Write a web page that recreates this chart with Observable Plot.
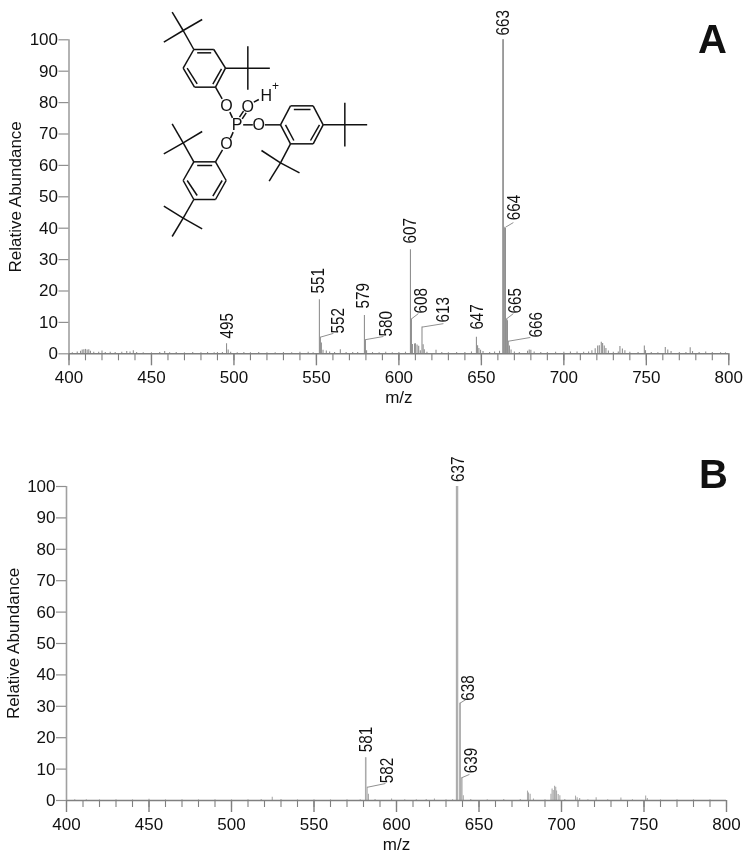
<!DOCTYPE html>
<html>
<head>
<meta charset="utf-8">
<script src="https://cdn.jsdelivr.net/npm/d3@7"></script>
<script src="https://cdn.jsdelivr.net/npm/@observablehq/plot@0.6"></script>
<style>
html,body{margin:0;padding:0;background:#fff}
#page{position:relative;width:750px;height:863px;overflow:hidden;font-family:"Liberation Sans",Arial,sans-serif}
#page svg{position:absolute;overflow:visible;max-width:none;filter:blur(0.45px)}
.letter{position:absolute;font:bold 40px "Liberation Sans",Arial,sans-serif;color:#111;line-height:40px;filter:blur(0.45px)}
</style>
</head>
<body>
<div id="page"></div>
<script>
// ---------- Panel A: peaks ----------
const mzA = [402,405,407,408,409,410,411,412,413,415,418,420,422,425,428,432,435,437,439,441,445,450,455,458,461,465,470,475,480,484,488,490,493,495.5,496.5,498,502,506,510,515,520,525,530,535,540,545,548,
 551.8,552.4,553,554,556,558,561,564.5,568,572,575,579.1,579.7,580.4,584,588,592,596,600,604,
 607,607.6,608.2,609.5,610,611,612,613,614,614.7,615.4,617,622.5,626,630,635,640,644,647,647.7,648.5,649.5,651,655,658,661,
 663,663.3,663.8,664.2,664.6,665,665.4,665.8,666.3,667,668,670,673,678,679,680,682,686,690,695,700,704,708,712,715,717,719,720.5,721.5,722.7,723.5,724.5,725.5,727,730,733,734,735.5,737,740,745,748.8,749.5,753,757,761.5,763,765,770,774,776.6,778,782,786,790,795,798];
const valueA = [.3,.6,.8,1.2,1.3,1.4,1.2,1.3,.8,.5,.5,.9,.4,.5,.4,.5,.7,.6,1,.4,.3,.3,.4,.7,.3,.4,.3,.4,.3,.4,.3,.4,.4,3.2,1.2,.5,.3,.4,.3,.4,.3,.3,.4,.3,.5,.5,.3,
 17.2,5.3,3.4,1.1,.9,.6,.4,1.3,.4,.4,.4,12.2,4.5,1,.4,.3,.5,.3,.4,.5,
 33.1,11.1,3,3.1,3.2,2.8,2.4,1,8.5,2.9,1.3,.5,1.1,.4,.3,.4,.4,.6,5.3,2.6,1.7,1.1,.7,.4,.6,.8,
 100,100,40.3,40,40,11.1,11,10.5,4,2.5,1.2,.6,.4,.8,1.2,1.1,.6,.4,.4,.5,.5,.6,.6,.5,.6,1,1.6,2.5,2.6,3.7,3.3,2.5,1.7,.9,.5,.6,2.3,1.5,1,.5,.4,2.5,1,.4,.3,2,1.2,.7,.4,.4,1.9,.7,.4,.6,.4,.3,.3];
const labelTextA = ["663","664","665","666","607","608","613","647","495","551","552","579","580"];
const labelXA = [663.3,670,670.6,683.3,607,613.6,627,647.6,496,551.2,563.3,578.5,592.4];
const labelYA = [101.4,42.5,12.8,5.2,35.1,12.8,10,7.7,4.9,19.2,6.5,14.4,5.5];
const leaderFromXA = [552.4,579.7,607.6,614,664.6,665.2,666.3];
const leaderFromYA = [5.3,4.5,11.1,8.5,40.3,11.1,4];
const leaderToXA = [560.3,590.6,611.8,627,669.4,669.4,679.7];
const leaderToYA = [6.5,5.5,12.8,9.6,41.8,12.8,5.2];

// ---------- Panel B: peaks ----------
const mzB = [405,412,420,430,440,450,460,470,480,490,500,510,518,524.7,530,540,550,560,570,578,
 581.2,581.5,582.2,583,587,597,605,612,618,623,630,634,
 636.3,636.7,637.1,638.3,638.7,639.2,639.7,640.5,645,655,665,675,679.4,680,681,683,690,693.6,694.3,695,695.8,696.5,697,698,699,702,708.5,709.5,711,716,721,728,736,743,751,752,760,770,780,790];
const valueB = [.2,.2,.2,.2,.2,.4,.2,.2,.2,.2,.2,.2,.3,1,.3,.2,.2,.2,.2,.2,
 13.6,13.6,4.2,2,.3,.5,.2,.2,.3,.5,.2,.2,
 100,100,100,31,31,7.2,7,1.5,.3,.2,.3,.3,3,2.4,2,.5,.2,2,3.7,3.2,4.5,4.2,3,1.9,1.5,.3,1.4,.9,.6,.2,.9,.2,.8,.2,1.4,.6,.2,.2,.2,.2];
const labelTextB = ["637","638","639","581","582"];
const labelXB = [637.6,643.6,645.3,581.8,594.4];
const labelYB = [101.4,31.8,8.7,15.4,5.5];
const leaderFromXB = [638.5,639.3,582.2];
const leaderFromYB = [31,7.2,4.2];
const leaderToXB = [642.8,644.2,593.3];
const leaderToYB = [32.4,8.3,5.4];

// ---------- Axis ----------
const majorTicksX = d3.range(400,801,50);
const minorTicksX = d3.range(400,801,10);
const ticksY = d3.range(0,101,10);
const axisLabelX = "m/z";
const axisLabelY = "Relative Abundance";

// ---------- Molecule drawing: bonds as [x1,y1,x2,y2] in sketch units ----------
const bonds = [
 // upper ring
 [580,147,640,147],[640,147,675,203],[675,203,645,260],[645,260,582,260],[582,260,548,203],[548,203,580,147],
 [590,157,632,157],[560,203,590,250],[663,205,637,251],
 [580,147,548,90],[548,90,515,35],[548,90,490,125],[548,90,605,57],
 [675,203,808,203],[742,137,742,268],
 [645,260,665,295],
 // phosphate
 [698,395,690,413],[696,352,688,335],[717,350,729,332],[725,355,737,337],[728,373,757,373],[793,373,840,373],[760,305,775,297],
 // right ring
 [840,373,870,316],[870,316,938,316],[938,316,968,373],[968,373,938,430],[938,430,870,430],[870,430,840,373],
 [880,327,930,327],[855,373,880,420],[957,373,930,420],
 [968,373,1100,373],[1033,307,1033,438],
 [870,430,840,487],[840,487,783,450],[840,487,897,517],[840,487,806,542],
 // lower ring
 [645,484,580,484],[580,484,548,540],[548,540,580,597],[580,597,645,597],[645,597,677,540],[677,540,645,484],
 [590,495,635,495],[560,540,590,585],[665,540,637,587],
 [666,448,645,484],
 [580,484,548,427],[548,427,515,370],[548,427,605,393],[548,427,490,460],
 [580,597,548,653],[548,653,490,617],[548,653,605,685],[548,653,515,708]
];
const atomText = ["O","O","O","O","P","H","+"];
const atomX = [678,742,775,678,710,797,825];
const atomY = [317,318,373,430,373,287,258];

function spectrum({mz, value, labelText, labelX, labelY, fromX, fromY, toX, toY, top, height, left, right, bottom, mt, stem}) {
  const plot = Plot.plot({
    width: 750, height,
    marginLeft: left, marginRight: right, marginTop: mt, marginBottom: bottom,
    style: {background: "transparent", fontFamily: '"Liberation Sans",Arial,sans-serif', color: "#111"},
    x: {domain: [400,800]},
    y: {domain: [0,100]},
    marks: [
      Plot.ruleX(mz.map((d,i) => ({mz:d, v:value[i]})), {x:"mz", y1:0, y2:"v", stroke:stem, strokeWidth:1.1}),
      Plot.ruleY([0], {stroke:"#808080", strokeWidth:1.5}),
      Plot.ruleX([400], {stroke:"#a0a0a0", strokeWidth:1.6}),
      Plot.link(fromX, {x1:(d)=>d, y1:(d,i)=>fromY[i], x2:(d,i)=>toX[i], y2:(d,i)=>toY[i], stroke:"#909090", strokeWidth:1}),
      Plot.axisX({ticks:minorTicksX, tickSize:7, tickFormat:()=>"", stroke:"#808080", strokeWidth:1.1, label:null}),
      Plot.axisX({ticks:majorTicksX, tickSize:12, tickPadding:5, stroke:"#808080", strokeWidth:1.4, fill:"#111",
        fontSize:17, tickFormat:d3.format("d"), label:axisLabelX, labelAnchor:"center", labelArrow:"none", labelOffset:49}),
      Plot.axisY({ticks:ticksY, tickSize:10, tickPadding:1, stroke:"#909090", strokeWidth:1.2, fill:"#111",
        fontSize:17, label:axisLabelY, labelAnchor:"center", labelArrow:"none", labelOffset:60}),
      Plot.text(labelText, {x:(d,i)=>labelX[i], y:(d,i)=>labelY[i], text:(d)=>d, rotate:-90, textAnchor:"start", lineAnchor:"middle",
        className:"peak-label", fontSize:18, fill:"#111"})
    ]
  });
  // peak labels in the source are condensed along their reading direction
  plot.querySelectorAll(".peak-label text").forEach(t => {
    t.setAttribute("textLength", "25.5");
    t.setAttribute("lengthAdjust", "spacingAndGlyphs");
  });
  plot.style.top = top + "px";
  plot.style.left = "0";
  return plot;
}

const page = document.getElementById("page");
page.append(spectrum({mz:mzA, value:valueA, labelText:labelTextA, labelX:labelXA, labelY:labelYA,
  fromX:leaderFromXA, fromY:leaderFromYA, toX:leaderToXA, toY:leaderToYA, stem:"#909090",
  top:0, height:410, left:68.5, right:21.7, mt:39.3, bottom:56.7}));
page.append(spectrum({mz:mzB, value:valueB, labelText:labelTextB, labelX:labelXB, labelY:labelYB,
  fromX:leaderFromXB, fromY:leaderFromYB, toX:leaderToXB, toY:leaderToYB, stem:"#ababab",
  top:430, height:433, left:66, right:24, mt:56, bottom:63}));

// Molecule overlay
const mol = Plot.plot({
  width:400, height:260, margin:0,
  style:{background:"transparent", fontFamily:'"Liberation Sans",Arial,sans-serif'},
  x:{domain:[0,1200], axis:null},
  y:{domain:[780,0], axis:null},
  marks:[
    Plot.link(bonds, {x1:(d)=>d[0], y1:(d)=>d[1], x2:(d)=>d[2], y2:(d)=>d[3], stroke:"#111", strokeWidth:1.5}),
    Plot.text(atomText, {x:(d,i)=>atomX[i], y:(d,i)=>atomY[i], text:(d)=>d, fontSize:(d)=>d==="+"?12:16,
      fontWeight:(d)=>(d==="H"||d==="+")?"bold":"normal", fill:"#111"})
  ]
});
mol.style.top="0"; mol.style.left="0";
page.append(mol);

for (const [t,l,tp] of [["A",698,19],["B",699,454]]) {
  const e=document.createElement("div"); e.className="letter"; e.textContent=t;
  e.style.left=l+"px"; e.style.top=tp+"px"; page.append(e);
}
</script>
</body>
</html>
